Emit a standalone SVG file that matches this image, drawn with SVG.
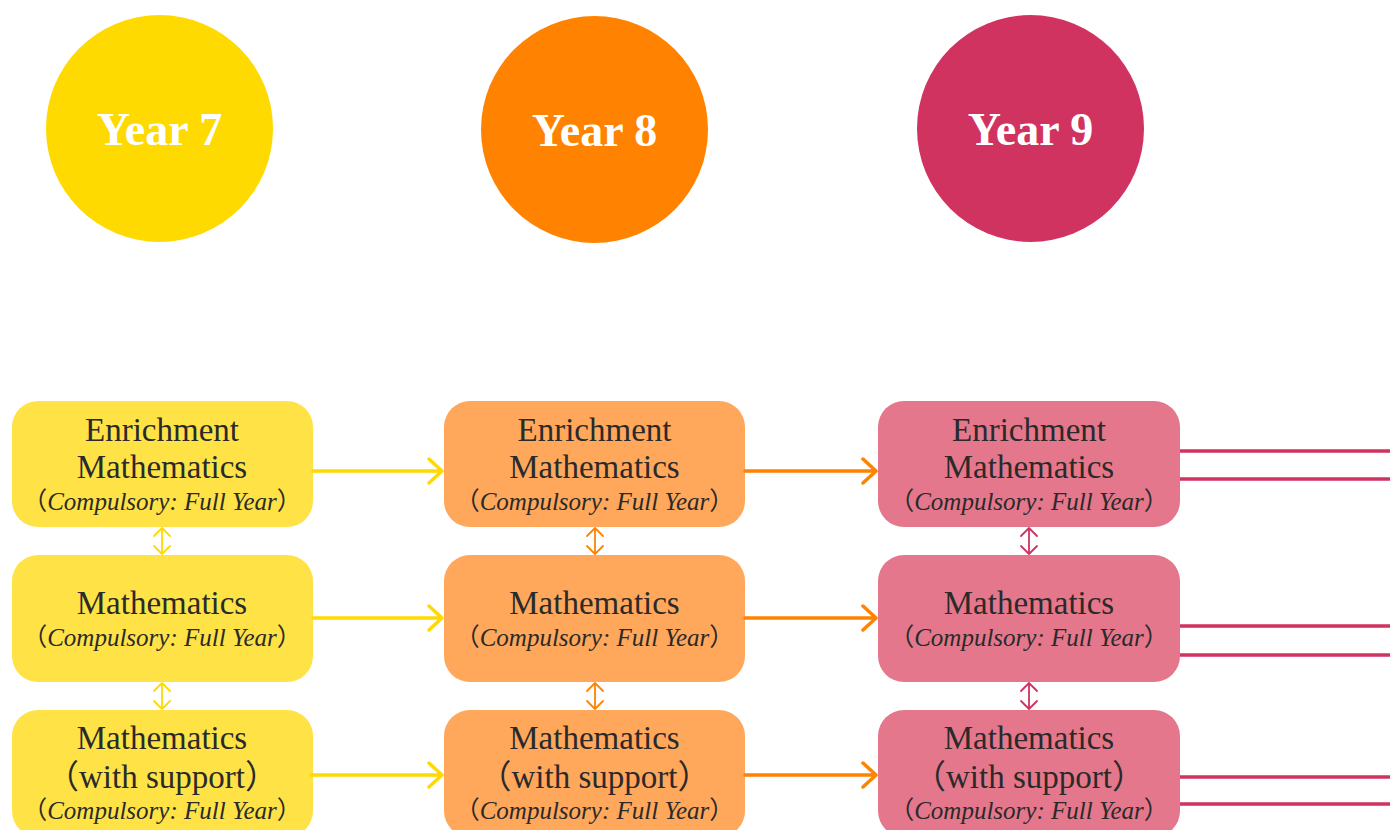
<svg xmlns="http://www.w3.org/2000/svg" width="1390" height="830" viewBox="0 0 1390 830">
<style>
.yl{font-family:"Liberation Serif","Noto Sans CJK SC",serif;font-weight:bold;font-size:46px;fill:#fff;text-anchor:middle}
.t{font-family:"Liberation Serif","Noto Sans CJK SC",serif;font-size:33px;fill:#2a2a2a;text-anchor:middle}
.s{font-family:"Liberation Serif","Noto Sans CJK SC",serif;font-size:25px;fill:#2a2a2a;text-anchor:middle}
.i{font-style:italic}
.b1{fill:#FFE346}.b2{fill:#FFA75B}.b3{fill:#E4778C}
.c1{stroke:#FFD900}.c2{stroke:#FF8300}.c3{stroke:#D1325F}
.h{fill:none;stroke-width:3.5;stroke-linecap:round;stroke-linejoin:round}
.v{fill:none;stroke-width:1.8;stroke-linecap:round;stroke-linejoin:round}
.r{fill:none;stroke-width:3.5}
</style>
<g id="year7"><circle cx="159.5" cy="128.5" r="113.5" fill="#FFDA00"/><text class="yl" x="159.5" y="145">Year 7</text></g>
<g id="year8"><circle cx="594.5" cy="129.5" r="113.5" fill="#FF8300"/><text class="yl" x="594.5" y="146">Year 8</text></g>
<g id="year9"><circle cx="1030.5" cy="128.5" r="113.5" fill="#D13361"/><text class="yl" x="1030.5" y="145">Year 9</text></g>

<g id="y7-enrich"><rect class="b1" x="12" y="401" width="301" height="126" rx="26"/>
<text class="t" x="162" y="441">Enrichment</text><text class="t" x="162" y="478">Mathematics</text>
<text class="s" x="162" y="510">（<tspan class="i">Compulsory: Full Year</tspan>）</text></g>
<g id="y7-math"><rect class="b1" x="12" y="555" width="301" height="127" rx="26"/>
<text class="t" x="162" y="614">Mathematics</text>
<text class="s" x="162" y="646">（<tspan class="i">Compulsory: Full Year</tspan>）</text></g>
<g id="y7-support"><rect class="b1" x="12" y="710" width="301" height="127" rx="26"/>
<text class="t" x="162" y="749">Mathematics</text><text class="t" x="162" y="788">（with support）</text>
<text class="s" x="162" y="819">（<tspan class="i">Compulsory: Full Year</tspan>）</text></g>

<g id="y8-enrich"><rect class="b2" x="444" y="401" width="301" height="126" rx="26"/>
<text class="t" x="594.5" y="441">Enrichment</text><text class="t" x="594.5" y="478">Mathematics</text>
<text class="s" x="594.5" y="510">（<tspan class="i">Compulsory: Full Year</tspan>）</text></g>
<g id="y8-math"><rect class="b2" x="444" y="555" width="301" height="127" rx="26"/>
<text class="t" x="594.5" y="614">Mathematics</text>
<text class="s" x="594.5" y="646">（<tspan class="i">Compulsory: Full Year</tspan>）</text></g>
<g id="y8-support"><rect class="b2" x="444" y="710" width="301" height="127" rx="26"/>
<text class="t" x="594.5" y="749">Mathematics</text><text class="t" x="594.5" y="788">（with support）</text>
<text class="s" x="594.5" y="819">（<tspan class="i">Compulsory: Full Year</tspan>）</text></g>

<g id="y9-enrich"><rect class="b3" x="878" y="401" width="302" height="126" rx="26"/>
<text class="t" x="1029" y="441">Enrichment</text><text class="t" x="1029" y="478">Mathematics</text>
<text class="s" x="1029" y="510">（<tspan class="i">Compulsory: Full Year</tspan>）</text></g>
<g id="y9-math"><rect class="b3" x="878" y="555" width="302" height="127" rx="26"/>
<text class="t" x="1029" y="614">Mathematics</text>
<text class="s" x="1029" y="646">（<tspan class="i">Compulsory: Full Year</tspan>）</text></g>
<g id="y9-support"><rect class="b3" x="878" y="710" width="302" height="127" rx="26"/>
<text class="t" x="1029" y="749">Mathematics</text><text class="t" x="1029" y="788">（with support）</text>
<text class="s" x="1029" y="819">（<tspan class="i">Compulsory: Full Year</tspan>）</text></g>

<g id="connectors">
<path class="h c1" d="M313 471H442M429 459L442 471L429 483"/>
<path class="h c1" d="M313 618H442M429 606L442 618L429 630"/>
<path class="h c1" d="M311 775H442M429 763L442 775L429 787"/>
<path class="h c2" d="M745 471H876M863 459L876 471L863 483"/>
<path class="h c2" d="M745 618H876M863 606L876 618L863 630"/>
<path class="h c2" d="M745 775H876M863 763L876 775L863 787"/>
<path class="v c1" d="M162 528V554M154 536L162 528L170 536M154 546L162 554L170 546"/>
<path class="v c1" d="M162 683V709M154 691L162 683L170 691M154 701L162 709L170 701"/>
<path class="v c2" d="M595 528V554M587 536L595 528L603 536M587 546L595 554L603 546"/>
<path class="v c2" d="M595 683V709M587 691L595 683L603 691M587 701L595 709L603 701"/>
<path class="v c3" d="M1029 528V554M1021 536L1029 528L1037 536M1021 546L1029 554L1037 546"/>
<path class="v c3" d="M1029 683V709M1021 691L1029 683L1037 691M1021 701L1029 709L1037 701"/>
<path class="r c3" d="M1180 451H1390M1180 479H1390M1180 626H1390M1180 655H1390M1180 777H1390M1180 804H1390"/>
</g>
</svg>
